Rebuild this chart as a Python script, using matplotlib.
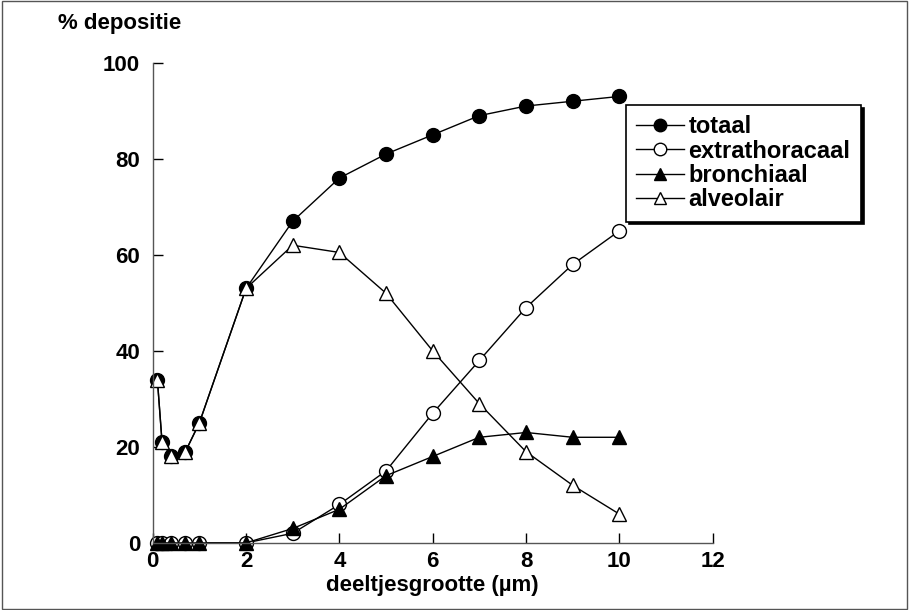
import numpy as np
import matplotlib; matplotlib.use("Agg")
import matplotlib.pyplot as plt
from matplotlib.patches import Rectangle

plt.rcParams["font.family"] = ["Liberation Sans", "DejaVu Sans"]
plt.rcParams["font.weight"] = "bold"

x = [0.1, 0.2, 0.4, 0.7, 1, 2, 3, 4, 5, 6, 7, 8, 9, 10]
totaal = [34, 21, 18, 19, 25, 53, 67, 76, 81, 85, 89, 91, 92, 93]
extrathoracaal = [0, 0, 0, 0, 0, 0, 2, 8, 15, 27, 38, 49, 58, 65]
bronchiaal = [0, 0, 0, 0, 0, 0, 3, 7, 14, 18, 22, 23, 22, 22]
alveolair = [34, 21, 18, 19, 25, 53, 62, 60.5, 52, 40, 29, 19, 12, 6]

FS = 16
fig = plt.figure(figsize=(9.09, 6.10), dpi=100)
ax = fig.add_axes([0.168, 0.110, 0.616, 0.787])

kw = dict(color="black", lw=1, ms=10, mew=1)
ax.plot(x, totaal, "-o", mfc="black", label="totaal", **kw)
ax.plot(x, extrathoracaal, "-o", mfc="white", label="extrathoracaal", **kw)
ax.plot(x, bronchiaal, "-^", mfc="black", label="bronchiaal", **kw)
ax.plot(x, alveolair, "-^", mfc="white", label="alveolair", **kw)

ax.set_xlim(0, 12); ax.set_ylim(0, 100)
ax.set_xticks(range(0, 13, 2)); ax.set_yticks(range(0, 101, 20))
ax.tick_params(direction="in", length=7, width=1, labelsize=FS)
ax.tick_params(axis="y", pad=9)
ax.tick_params(axis="x", pad=6)
for s in ["top", "right"]:
    ax.spines[s].set_visible(False)
for s in ["left", "bottom"]:
    ax.spines[s].set_linewidth(1); ax.spines[s].set_color("#555555")
for l in ax.lines:
    l.set_clip_on(False)

ax.set_xlabel("deeltjesgrootte (µm)", fontsize=FS, fontweight="bold", labelpad=2)
fig.text(0.132, 0.961, "% depositie", fontsize=FS, fontweight="bold", ha="center", va="center")

leg = ax.legend(loc="upper left", bbox_to_anchor=(0.845, 0.9125), borderaxespad=0, fontsize=17,
                frameon=True, fancybox=False, shadow={"color": "black", "alpha": 1},
                edgecolor="black", handlelength=2.0, handletextpad=0.2, labelspacing=0.05,
                borderpad=0.45, markerscale=0.9)
leg.get_frame().set_linewidth(1.2)
for t in leg.get_texts():
    t.set_fontweight("bold")

fig.add_artist(Rectangle((0.002, 0.002), 0.996, 0.996, transform=fig.transFigure,
                         fill=False, edgecolor="#555555", lw=1))
fig.savefig("out.png", dpi=100)
